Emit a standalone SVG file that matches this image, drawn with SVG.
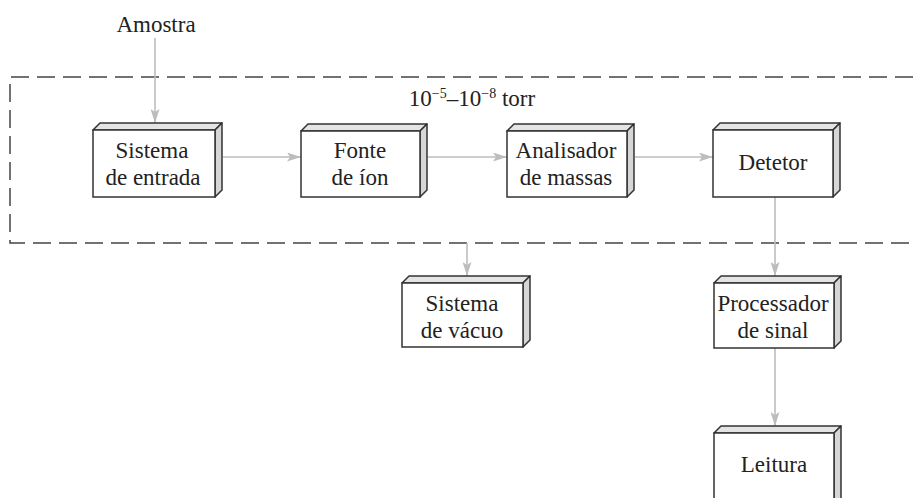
<svg xmlns="http://www.w3.org/2000/svg" width="913" height="498" viewBox="0 0 913 498">
<defs>
<style>
.front{fill:#fff;stroke:#333;stroke-width:1.5}
.top{fill:#e4e4e4;stroke:#333;stroke-width:1.5;stroke-linejoin:round}
.side{fill:#d6d6d6;stroke:#333;stroke-width:1.5;stroke-linejoin:round}
.t{font-family:"Liberation Serif","Times New Roman",serif;font-size:23px;fill:#222;text-anchor:middle}
.c{stroke:#bdbdbd;stroke-width:1.6;fill:none;marker-end:url(#ah)}
.dash{fill:none;stroke:#444;stroke-width:1.5;stroke-dasharray:18 8}
</style>
<marker id="ah" viewBox="0 0 14 9" refX="14" refY="4.5" markerWidth="14" markerHeight="9" markerUnits="userSpaceOnUse" orient="auto">
<path d="M0,0 L14,4.5 L0,9 L3,4.5 Z" fill="#bdbdbd"/>
</marker>
</defs>
<rect width="913" height="498" fill="#fff"/>
<path class="dash" d="M913,77 H10 V243 H913"/>
<text class="t" x="156" y="32">Amostra</text>
<text class="t" x="472" y="106">10<tspan font-size="14" dy="-8">−5</tspan><tspan dy="8">–10</tspan><tspan font-size="14" dy="-8">−8</tspan><tspan dy="8"> torr</tspan></text>
<g id="connectors">
<line class="c" x1="155" y1="38" x2="155" y2="123"/>
<line class="c" x1="223" y1="157" x2="301" y2="157"/>
<line class="c" x1="428" y1="157" x2="507" y2="157"/>
<line class="c" x1="635" y1="157" x2="713" y2="157"/>
<line class="c" x1="467" y1="243" x2="467" y2="276"/>
<line class="c" x1="775" y1="197" x2="775" y2="276"/>
<line class="c" x1="775" y1="348" x2="775" y2="426"/>
</g>
<g id="entrada">
<polygon class="top" points="93,130 100,123 222,123 215,130"/>
<polygon class="side" points="215,130 222,123 222,190 215,197"/>
<rect class="front" x="93" y="130" width="122" height="67"/>
<text class="t" x="152" y="158">Sistema</text>
<text class="t" x="153" y="185">de entrada</text>
</g>
<g id="fonte">
<polygon class="top" points="301,131 308,124 427,124 420,131"/>
<polygon class="side" points="420,131 427,124 427,190 420,197"/>
<rect class="front" x="301" y="131" width="119" height="66"/>
<text class="t" x="360" y="158">Fonte</text>
<text class="t" x="360" y="185">de íon</text>
</g>
<g id="analisador">
<polygon class="top" points="507,131 514,124 634,124 627,131"/>
<polygon class="side" points="627,131 634,124 634,190 627,197"/>
<rect class="front" x="507" y="131" width="120" height="66"/>
<text class="t" x="566" y="158">Analisador</text>
<text class="t" x="566" y="185">de massas</text>
</g>
<g id="detetor">
<polygon class="top" points="713,130 720,123 840,123 833,130"/>
<polygon class="side" points="833,130 840,123 840,190 833,197"/>
<rect class="front" x="713" y="130" width="120" height="67"/>
<text class="t" x="773" y="170">Detetor</text>
</g>
<g id="vacuo">
<polygon class="top" points="402,283 409,276 530,276 523,283"/>
<polygon class="side" points="523,283 530,276 530,340 523,347"/>
<rect class="front" x="402" y="283" width="121" height="64"/>
<text class="t" x="462" y="311">Sistema</text>
<text class="t" x="462" y="338">de vácuo</text>
</g>
<g id="processador">
<polygon class="top" points="714,283 721,276 841,276 834,283"/>
<polygon class="side" points="834,283 841,276 841,341 834,348"/>
<rect class="front" x="714" y="283" width="120" height="65"/>
<text class="t" x="773" y="311">Processador</text>
<text class="t" x="773" y="338">de sinal</text>
</g>
<g id="leitura">
<polygon class="top" points="714,433 721,426 841,426 834,433"/>
<polygon class="side" points="834,433 841,426 841,520 834,527"/>
<rect class="front" x="714" y="433" width="120" height="94"/>
<text class="t" x="774" y="472">Leitura</text>
</g>
</svg>
